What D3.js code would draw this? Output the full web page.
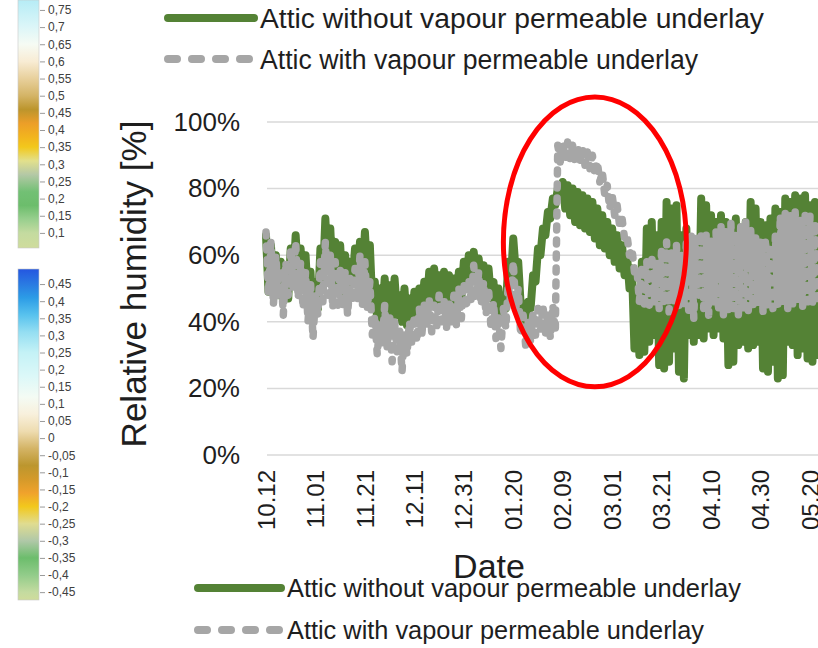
<!DOCTYPE html>
<html>
<head>
<meta charset="utf-8">
<script src="https://cdn.jsdelivr.net/npm/d3@7"></script>
<style>
  html, body { margin: 0; padding: 0; background: #fff; }
  svg { display: block; font-family: "Liberation Sans", Arial, sans-serif; }
</style>
</head>
<body>
<svg id="chart" width="818" height="648"></svg>
<script>
// ---- data ---------------------------------------------------------------
const seriesNames = ["Attic without vapour permeable underlay", "Attic with vapour permeable underlay"];
const startDate = "2018-10-12";          // first daily reading

// relative humidity [%], one reading per day from startDate
const rhWithout = [
  66,49,63,50,60,48,58,50,57,47, 62,52,66,53,62,50,60,46,55,40,
  52,44,62,52,71,56,68,52,64,50, 63,49,60,50,58,52,62,51,64,53,
  67,54,63,45,52,40,50,42,53,41, 51,38,53,42,48,40,50,39,47,40,
  49,42,50,43,52,44,55,45,56,46, 54,45,55,46,54,47,53,46,55,47,
  58,50,60,52,61,54,59,52,57,50, 56,47,52,42,50,40,48,44,58,52,
  65,55,58,45,44,40,46,44,54,52, 62,60,68,66,73,71,77,75,80,78,
  82,74,81,72,80,70,79,69,78,68, 77,67,76,65,74,63,72,62,70,60,
  68,58,66,56,63,54,60,50,56,32, 48,30,58,31,68,34,70,36,66,27,
  70,26,76,28,74,32,75,25,66,23, 68,36,63,34,64,36,77,35,75,38,
  72,36,70,38,72,35,70,27,69,28, 71,33,68,34,70,32,76,33,74,34,
  70,26,69,25,71,28,74,23,73,24, 77,34,76,33,78,30,77,32,78,29,
  75,28,76,30
];
const rhWith = [
  67,48,64,45,60,47,56,42,58,48, 62,50,64,47,58,44,55,40,52,35,
  48,42,58,46,64,48,60,44,58,45, 56,44,55,42,53,46,56,47,60,45,
  58,44,52,36,42,30,40,33,45,32, 42,28,40,31,38,25,37,30,40,33,
  42,34,44,36,45,38,47,37,45,38, 48,40,47,38,46,40,48,39,50,41,
  52,44,53,46,57,47,55,45,52,42, 50,38,46,35,42,32,44,38,52,45,
  58,44,50,36,42,33,40,34,43,36, 44,37,45,36,43,35,45,37,93,88,
  94,89,94,89,93,88,93,88,92,87, 91,86,90,84,88,82,85,78,81,74,
  78,72,75,69,71,65,66,60,62,55, 56,46,57,44,58,45,60,46,58,44,
  62,45,64,43,61,46,63,44,60,45, 64,42,66,41,65,48,67,44,66,42,
  65,46,67,43,69,42,68,43,70,44, 67,41,69,43,70,42,68,44,66,45,
  64,43,65,45,63,44,66,45,72,46, 73,44,72,45,73,46,71,44,73,46,
  72,45,70,47
];

const dateTicks = ["10.12","11.01","11.21","12.11","12.31","01.20","02.09","03.01","03.21","04.10","04.30","05.20"];
const rhTicks = [0, 20, 40, 60, 80, 100];

// highlighted period (centre date, centre RH, half-width in days, half-height in RH %)
const focusDate = "2019-02-22";
const focusRH = 64;
const focusHalfDays = 37;
const focusHalfRH = 43.5;

// colour scale bars
const barTicksA = [0.75,0.7,0.65,0.6,0.55,0.5,0.45,0.4,0.35,0.3,0.25,0.2,0.15,0.1];
const barDomainA = [0.056, 0.779];
const barStopsA = [
  [0.056,"#cfdc9c"],[0.1,"#c4dba0"],[0.14,"#98cf8e"],[0.18,"#6cbd6c"],[0.22,"#72c074"],
  [0.27,"#b4c8a6"],[0.31,"#e2e08c"],[0.35,"#f2c81c"],[0.38,"#f2b41e"],[0.42,"#ec9e28"],
  [0.46,"#bc952c"],[0.5,"#d4b466"],[0.55,"#e8d09c"],[0.6,"#f8ecd4"],[0.65,"#f6fbf4"],
  [0.7,"#dcf6f8"],[0.779,"#b6ecf6"]
];
const barTicksB = [0.45,0.4,0.35,0.3,0.25,0.2,0.15,0.1,0.05,0,-0.05,-0.1,-0.15,-0.2,-0.25,-0.3,-0.35,-0.4,-0.45];
const barDomainB = [-0.473, 0.494];
const barStopsB = [
  [-0.473,"#cfdc9c"],[-0.45,"#c4dba0"],[-0.4,"#92cc8a"],[-0.35,"#6cbd6c"],[-0.3,"#b0c8a8"],
  [-0.25,"#e0dc90"],[-0.2,"#f2c81c"],[-0.16,"#f0a22c"],[-0.12,"#d49a2a"],[-0.08,"#bc962e"],
  [-0.03,"#d4b466"],[0.02,"#eedcb0"],[0.07,"#f8f0dc"],[0.12,"#f4fbf4"],[0.18,"#dcf8f8"],
  [0.25,"#c4f2f6"],[0.31,"#94def2"],[0.36,"#58c2ee"],[0.41,"#2c9ce6"],[0.45,"#2a7ae2"],[0.494,"#2456e0"]
];

// ---- drawing ------------------------------------------------------------
const svg = d3.select("#chart");
const GREEN = "#548235", GREY = "#a6a6a6", TEXT = "#1e1e1e";

const parseISO = d3.timeParse("%Y-%m-%d");
const t0 = parseISO(startDate);
const tickDate = s => {
  const [m, d] = s.split(".").map(Number);
  return new Date(m >= 10 ? 2018 : 2019, m - 1, d);
};

const x = d3.scaleTime()
  .domain([tickDate(dateTicks[0]), tickDate(dateTicks[dateTicks.length - 1])])
  .range([266, 810]);
const y = d3.scaleLinear().domain([0, 100]).range([455, 122]);

// gridlines
svg.append("g")
  .selectAll("line").data(rhTicks).join("line")
  .attr("x1", 267).attr("x2", 818)
  .attr("y1", d => y(d)).attr("y2", d => y(d))
  .attr("stroke", "#d9d9d9").attr("stroke-width", 1.5);

// y tick labels
const yAxis = svg.append("g").attr("transform", "translate(240,0)")
  .call(d3.axisLeft(y).tickValues(rhTicks).tickSize(0).tickPadding(0).tickFormat(d => d + "%"));
yAxis.select(".domain").remove();
yAxis.selectAll("text").attr("font-size", 26).attr("fill", TEXT)
  .attr("font-family", "Liberation Sans, Arial, sans-serif");

// y axis title
svg.append("text")
  .attr("transform", `translate(146,${(116 + 452) / 2}) rotate(-90)`)
  .attr("text-anchor", "middle")
  .attr("font-size", 35).attr("fill", TEXT)
  .text("Relative humidity [%]");

// x tick labels (rotated)
svg.append("g").selectAll("text").data(dateTicks).join("text")
  .attr("transform", d => `translate(${x(tickDate(d))},470) rotate(-90)`)
  .attr("text-anchor", "end").attr("dy", "0.36em")
  .attr("font-size", 24).attr("fill", TEXT)
  .text(d => d);

// x axis title
svg.append("text")
  .attr("x", 489).attr("y", 578)
  .attr("text-anchor", "middle")
  .attr("font-size", 34).attr("fill", TEXT)
  .text("Date");

// series
const line = d3.line()
  .x((d, i) => x(d3.timeDay.offset(t0, i)))
  .y(d => y(d));

const plot = svg.append("g");
plot.append("path").datum(rhWithout)
  .attr("d", line).attr("fill", "none")
  .attr("stroke", GREEN).attr("stroke-width", 8)
  .attr("stroke-linejoin", "round").attr("stroke-linecap", "round");
plot.append("path").datum(rhWith)
  .attr("d", line).attr("fill", "none")
  .attr("stroke", GREY).attr("stroke-width", 7.5)
  .attr("stroke-dasharray", "4,10")
  .attr("stroke-linejoin", "round").attr("stroke-linecap", "round");

// highlight ellipse
const fc = parseISO(focusDate);
svg.append("ellipse")
  .attr("cx", x(fc)).attr("cy", y(focusRH))
  .attr("rx", x(d3.timeDay.offset(fc, focusHalfDays)) - x(fc))
  .attr("ry", y(0) - y(focusHalfRH))
  .attr("fill", "none").attr("stroke", "#ff0000").attr("stroke-width", 5);

// legends
function legend(x0, x1, yTop, gap, size, widths) {
  const g = svg.append("g");
  seriesNames.forEach((name, i) => {
    const yy = yTop + i * gap;
    g.append("line")
      .attr("x1", x0).attr("x2", x1).attr("y1", yy).attr("y2", yy)
      .attr("stroke", i === 0 ? GREEN : GREY).attr("stroke-width", 8)
      .attr("stroke-linecap", "round")
      .attr("stroke-dasharray", i === 0 ? null : "9,15");
    g.append("text")
      .attr("x", x1 + 6).attr("y", yy).attr("dy", "0.36em")
      .attr("font-size", size).attr("fill", TEXT)
      .attr("textLength", widths[i]).attr("lengthAdjust", "spacingAndGlyphs")
      .text(name);
  });
}
legend(168, 254, 18, 41, 27, [504, 438]);
legend(198, 281, 588, 42, 25, [454, 417]);

// colour scale bars
function colourBar(id, domain, stops, ticks, yTop, yBottom) {
  const s = d3.scaleLinear().domain(domain).range([yBottom, yTop]);
  const grad = svg.append("defs").append("linearGradient")
    .attr("id", id).attr("gradientUnits", "userSpaceOnUse")
    .attr("x1", 0).attr("x2", 0).attr("y1", s(domain[0])).attr("y2", s(domain[1]));
  grad.selectAll("stop").data(stops).join("stop")
    .attr("offset", d => (d[0] - domain[0]) / (domain[1] - domain[0]))
    .attr("stop-color", d => d[1]);
  svg.append("rect")
    .attr("x", 18).attr("y", yTop).attr("width", 21).attr("height", yBottom - yTop)
    .attr("fill", `url(#${id})`).attr("stroke", "#c8c8c8").attr("stroke-width", 0.6);
  const ax = svg.append("g").attr("transform", "translate(40,0)")
    .call(d3.axisRight(s).tickValues(ticks).tickSize(5).tickPadding(3)
      .tickFormat(d => String(+d.toFixed(2)).replace(".", ",")));
  ax.select(".domain").remove();
  ax.selectAll(".tick line").attr("stroke", "#9a9a9a");
  ax.selectAll("text").attr("font-size", 12).attr("fill", "#404040")
    .attr("font-family", "Liberation Sans, Arial, sans-serif");
}
colourBar("barA", barDomainA, barStopsA, barTicksA, 0, 248);
colourBar("barB", barDomainB, barStopsB, barTicksB, 269, 600);
</script>
</body>
</html>
